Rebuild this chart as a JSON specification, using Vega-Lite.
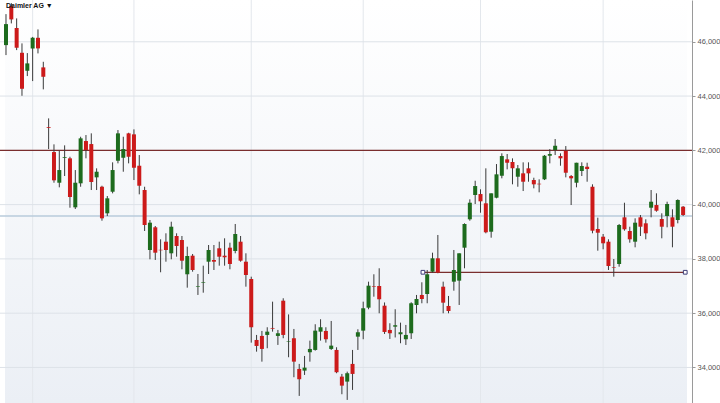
{
"$schema": "https://vega.github.io/schema/vega-lite/v6.json",
"width": 692, "height": 403,
"autosize": {"type": "none"},
"padding": {"left": 0, "top": 0, "right": 28, "bottom": 0},
"background": "#ffffff",
"config": {"view": {"stroke": null}},
"datasets": {
"candles": [
{"i":0,"o":45878,"h":47020,"l":45510,"c":46652},
{"i":1,"o":47315,"h":47425,"l":46677,"c":46825},
{"i":2,"o":46504,"h":46862,"l":45694,"c":45779},
{"i":3,"o":45595,"h":45941,"l":44011,"c":44269},
{"i":4,"o":44932,"h":45584,"l":44737,"c":45204},
{"i":5,"o":45757,"h":46180,"l":44552,"c":46147},
{"i":6,"o":46147,"h":46456,"l":45572,"c":45757},
{"i":7,"o":45057,"h":45263,"l":44247,"c":44711},
{"i":8,"o":42858,"h":43178,"l":42048,"c":42829},
{"i":9,"o":41937,"h":42221,"l":40807,"c":40895},
{"i":10,"o":40807,"h":41985,"l":40637,"c":41274},
{"i":11,"o":41727,"h":42184,"l":41054,"c":41753},
{"i":12,"o":41705,"h":41764,"l":39886,"c":40280},
{"i":13,"o":39900,"h":41274,"l":39838,"c":40807},
{"i":14,"o":40785,"h":42501,"l":40659,"c":42442},
{"i":15,"o":42343,"h":42564,"l":41706,"c":42011},
{"i":16,"o":42232,"h":42626,"l":40538,"c":40833},
{"i":17,"o":41005,"h":41337,"l":40538,"c":41212},
{"i":18,"o":40659,"h":40696,"l":39407,"c":39495},
{"i":19,"o":39680,"h":40317,"l":39580,"c":40232},
{"i":20,"o":40475,"h":41558,"l":40416,"c":41274},
{"i":21,"o":41617,"h":42748,"l":41521,"c":42626},
{"i":22,"o":41727,"h":42501,"l":41212,"c":42048},
{"i":23,"o":42626,"h":42648,"l":41521,"c":41764},
{"i":24,"o":42589,"h":42773,"l":40906,"c":41359},
{"i":25,"o":41433,"h":41827,"l":40379,"c":40696},
{"i":26,"o":40538,"h":40659,"l":39028,"c":39249},
{"i":27,"o":38328,"h":39433,"l":37985,"c":39334},
{"i":28,"o":39164,"h":39212,"l":37960,"c":38229},
{"i":29,"o":38335,"h":38722,"l":37507,"c":38317},
{"i":30,"o":38634,"h":38943,"l":37897,"c":38328},
{"i":31,"o":38206,"h":39370,"l":37985,"c":39186},
{"i":32,"o":38844,"h":38943,"l":38081,"c":38475},
{"i":33,"o":38696,"h":38844,"l":37617,"c":37934},
{"i":34,"o":37433,"h":38450,"l":36940,"c":38107},
{"i":35,"o":38118,"h":38181,"l":37529,"c":37591},
{"i":36,"o":36965,"h":37444,"l":36671,"c":36987},
{"i":37,"o":37127,"h":37750,"l":36755,"c":37149},
{"i":38,"o":37897,"h":38512,"l":37444,"c":38328},
{"i":39,"o":37960,"h":38512,"l":37591,"c":37897},
{"i":40,"o":38390,"h":38634,"l":37750,"c":38081},
{"i":41,"o":38118,"h":38759,"l":37750,"c":38059},
{"i":42,"o":38413,"h":38597,"l":37617,"c":37812},
{"i":43,"o":38291,"h":39286,"l":38206,"c":38917},
{"i":44,"o":38634,"h":38844,"l":37897,"c":37934},
{"i":45,"o":37897,"h":38206,"l":36977,"c":37407},
{"i":46,"o":37260,"h":37345,"l":34914,"c":35481},
{"i":47,"o":35013,"h":35198,"l":34582,"c":34792},
{"i":48,"o":35161,"h":35345,"l":34214,"c":34682},
{"i":49,"o":35198,"h":35481,"l":34708,"c":35319},
{"i":50,"o":35455,"h":36424,"l":35319,"c":35429},
{"i":51,"o":35161,"h":35382,"l":34829,"c":35260},
{"i":52,"o":36460,"h":36549,"l":35076,"c":35198},
{"i":53,"o":34943,"h":35955,"l":34376,"c":34962},
{"i":54,"o":35076,"h":35418,"l":33640,"c":34214},
{"i":55,"o":33945,"h":34130,"l":32951,"c":33566},
{"i":56,"o":33883,"h":34424,"l":33724,"c":33993},
{"i":57,"o":34560,"h":34988,"l":34214,"c":34682},
{"i":58,"o":34645,"h":35592,"l":34619,"c":35356},
{"i":59,"o":35319,"h":35776,"l":34988,"c":35481},
{"i":60,"o":35345,"h":35481,"l":34914,"c":35039},
{"i":61,"o":34682,"h":35713,"l":34645,"c":34804},
{"i":62,"o":34645,"h":34744,"l":33787,"c":33824},
{"i":63,"o":33662,"h":33761,"l":33013,"c":33330},
{"i":64,"o":33478,"h":33846,"l":32804,"c":33787},
{"i":65,"o":34130,"h":34645,"l":33172,"c":33761},
{"i":66,"o":35135,"h":35407,"l":34645,"c":35297},
{"i":67,"o":35356,"h":36424,"l":35039,"c":36181},
{"i":68,"o":36203,"h":37161,"l":36144,"c":37013},
{"i":69,"o":37002,"h":37433,"l":36608,"c":36980},
{"i":70,"o":37002,"h":37654,"l":35996,"c":36512},
{"i":71,"o":36276,"h":36395,"l":35234,"c":35308},
{"i":72,"o":35382,"h":35629,"l":35050,"c":35260},
{"i":73,"o":35503,"h":36144,"l":35105,"c":35555},
{"i":74,"o":35223,"h":35651,"l":34892,"c":35297},
{"i":75,"o":35039,"h":35566,"l":34829,"c":35198},
{"i":76,"o":35260,"h":36402,"l":35050,"c":36365},
{"i":77,"o":36302,"h":36671,"l":35996,"c":36523},
{"i":78,"o":36671,"h":37138,"l":36365,"c":36523},
{"i":79,"o":36707,"h":37591,"l":36365,"c":37433},
{"i":80,"o":37529,"h":38229,"l":37492,"c":38022},
{"i":81,"o":38022,"h":38881,"l":37470,"c":37492},
{"i":82,"o":36976,"h":37161,"l":35996,"c":36387},
{"i":83,"o":36266,"h":36634,"l":35996,"c":36081},
{"i":84,"o":37161,"h":38328,"l":36829,"c":37591},
{"i":85,"o":37198,"h":38206,"l":36302,"c":38206},
{"i":86,"o":38413,"h":39311,"l":37654,"c":39286},
{"i":87,"o":39459,"h":40195,"l":39407,"c":40070},
{"i":88,"o":40354,"h":40880,"l":40022,"c":40685},
{"i":89,"o":40390,"h":40564,"l":39702,"c":40122},
{"i":90,"o":40048,"h":41337,"l":38943,"c":38980},
{"i":91,"o":39002,"h":40416,"l":38781,"c":40416},
{"i":92,"o":40254,"h":41495,"l":40232,"c":41116},
{"i":93,"o":41064,"h":41890,"l":40969,"c":41790},
{"i":94,"o":41668,"h":41864,"l":41300,"c":41543},
{"i":95,"o":41569,"h":41705,"l":40748,"c":41337},
{"i":96,"o":41028,"h":41459,"l":40659,"c":41337},
{"i":97,"o":41153,"h":41558,"l":40501,"c":40844},
{"i":98,"o":41337,"h":41558,"l":40844,"c":41153},
{"i":99,"o":40906,"h":40991,"l":40600,"c":40748},
{"i":100,"o":40770,"h":40932,"l":40453,"c":40748},
{"i":101,"o":40932,"h":41827,"l":40906,"c":41801},
{"i":102,"o":41801,"h":42048,"l":41521,"c":41864},
{"i":103,"o":42011,"h":42416,"l":41827,"c":42169},
{"i":104,"o":41790,"h":41890,"l":41433,"c":41706},
{"i":105,"o":41985,"h":42158,"l":41005,"c":41175},
{"i":106,"o":41053,"h":41090,"l":39985,"c":40969},
{"i":107,"o":40807,"h":41543,"l":40637,"c":41543},
{"i":108,"o":41238,"h":41558,"l":41054,"c":41422},
{"i":109,"o":41396,"h":41543,"l":40844,"c":41311},
{"i":110,"o":40659,"h":40748,"l":38943,"c":39039},
{"i":111,"o":39101,"h":39518,"l":38302,"c":38965},
{"i":112,"o":38818,"h":38917,"l":38354,"c":38575},
{"i":113,"o":38634,"h":38722,"l":37591,"c":37739},
{"i":114,"o":37702,"h":37996,"l":37345,"c":37680},
{"i":115,"o":37812,"h":39286,"l":37713,"c":39249},
{"i":116,"o":39532,"h":40070,"l":39039,"c":39090},
{"i":117,"o":39028,"h":39186,"l":38597,"c":38722},
{"i":118,"o":38634,"h":39495,"l":38427,"c":39334},
{"i":119,"o":39532,"h":39617,"l":38844,"c":39186},
{"i":120,"o":39311,"h":39459,"l":38722,"c":38943},
{"i":121,"o":39886,"h":40538,"l":39532,"c":40107},
{"i":122,"o":39985,"h":40416,"l":39738,"c":39775},
{"i":123,"o":39470,"h":39680,"l":38759,"c":39186},
{"i":124,"o":39580,"h":40107,"l":39164,"c":40022},
{"i":125,"o":39532,"h":39827,"l":38427,"c":39186},
{"i":126,"o":39433,"h":40195,"l":39311,"c":40170},
{"i":127,"o":39923,"h":39949,"l":39580,"c":39617}
],
"vgrid": [{"i":5},{"i":24},{"i":46},{"i":67},{"i":89},{"i":112}],
"hgrid": [{"v":34000},{"v":36000},{"v":38000},{"v":40000},{"v":42000},{"v":44000},{"v":46000}],
"levels": [{"name":"resistance","v":42000},{"name":"blue","v":39580}],
"support": [{"a":78.2,"b":127.73,"v":37507}],
"handles": [{"i":78.2,"v":37507},{"i":127.4,"v":37507}],
"heading": [{"label":"Daimler AG ▼","i":-0.185,"v":47540}]
},
"layer": [
{"data": {"values": [{}]},
 "mark": {"type": "rect", "color": {"gradient": "linear", "x1": 0, "y1": 0, "x2": 0, "y2": 1, "stops": [{"offset": 0, "color": "#ffffff"}, {"offset": 1, "color": "#ebeff5"}]}},
 "encoding": {
  "x": {"datum": -0.185, "type": "quantitative", "scale": {"domain": [-0.185, 127.73], "nice": false, "zero": false}},
  "x2": {"datum": 127.73},
  "y": {"datum": 47540, "type": "quantitative", "scale": {"domain": [32690, 47540], "nice": false, "zero": false}},
  "y2": {"datum": 32690}}},
{"data": {"name": "vgrid"},
 "mark": {"type": "rule", "color": "#e3e7ec", "strokeWidth": 1},
 "encoding": {"x": {"field": "i", "type": "quantitative", "scale": {"domain": [-0.185, 127.73], "nice": false, "zero": false}}}},
{"data": {"name": "hgrid"},
 "mark": {"type": "rule", "color": "#dde2e8", "strokeWidth": 1},
 "encoding": {"y": {"field": "v", "type": "quantitative", "scale": {"domain": [32690, 47540], "nice": false, "zero": false}}}},
{"data": {"name": "levels"},
 "mark": {"type": "rule", "strokeWidth": 1.3},
 "encoding": {"y": {"field": "v", "type": "quantitative", "scale": {"domain": [32690, 47540], "nice": false, "zero": false}},
  "color": {"field": "name", "type": "nominal", "scale": {"domain": ["resistance", "blue"], "range": ["#7a2e2e", "#b9cbdb"]}, "legend": null}}},
{"data": {"name": "support"},
 "mark": {"type": "rule", "strokeWidth": 1.3, "color": "#7a2e2e"},
 "encoding": {"x": {"field": "a", "type": "quantitative", "scale": {"domain": [-0.185, 127.73], "nice": false, "zero": false}},
  "x2": {"field": "b"},
  "y": {"field": "v", "type": "quantitative", "scale": {"domain": [32690, 47540], "nice": false, "zero": false}}}},
{"data": {"name": "candles"},
 "mark": {"type": "rule", "strokeWidth": 1, "color": "#3a3a3a"},
 "encoding": {"x": {"field": "i", "type": "quantitative", "scale": {"domain": [-0.185, 127.73], "nice": false, "zero": false}},
  "y": {"field": "l", "type": "quantitative", "scale": {"domain": [32690, 47540], "nice": false, "zero": false}},
  "y2": {"field": "h"}}},
{"data": {"name": "candles"},
 "mark": {"type": "bar", "size": 4},
 "encoding": {"x": {"field": "i", "type": "quantitative", "scale": {"domain": [-0.185, 127.73], "nice": false, "zero": false}},
  "y": {"field": "o", "type": "quantitative", "scale": {"domain": [32690, 47540], "nice": false, "zero": false}},
  "y2": {"field": "c"},
  "color": {"condition": {"test": "datum.c > datum.o", "value": "#1d6b1d"}, "value": "#cc1a1a"}}},
{"data": {"name": "handles"},
 "mark": {"type": "square", "size": 14, "filled": false, "stroke": "#3d3d78", "fill": "#ffffff", "strokeWidth": 1, "opacity": 1},
 "encoding": {"x": {"field": "i", "type": "quantitative", "scale": {"domain": [-0.185, 127.73], "nice": false, "zero": false}},
  "y": {"field": "v", "type": "quantitative", "scale": {"domain": [32690, 47540], "nice": false, "zero": false}}}},
{"data": {"name": "heading"},
 "mark": {"type": "text", "align": "left", "baseline": "top", "dx": 1, "dy": 2, "fontSize": 7, "fontWeight": "bold", "font": "Liberation Sans", "color": "#111111"},
 "encoding": {"x": {"field": "i", "type": "quantitative", "scale": {"domain": [-0.185, 127.73], "nice": false, "zero": false}},
  "y": {"field": "v", "type": "quantitative", "scale": {"domain": [32690, 47540], "nice": false, "zero": false}},
  "text": {"field": "label"}}}
],
"encoding": {
 "x": {"type": "quantitative", "axis": null},
 "y": {"type": "quantitative", "axis": {"orient": "right", "values": [34000, 36000, 38000, 40000, 42000, 44000, 46000], "format": ",.0f", "title": null, "grid": false, "labelFontSize": 7.5, "labelFont": "Liberation Sans", "labelColor": "#555555", "tickSize": 3, "tickColor": "#999999", "domainColor": "#9a9a9a", "labelPadding": 2}}
}
}
